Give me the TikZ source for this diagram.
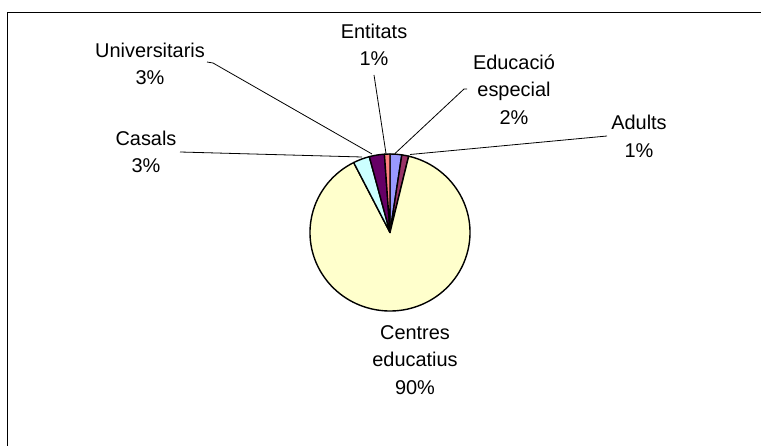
\documentclass[tikz,border=0pt]{standalone}
\usepackage{fontspec}
\setmainfont{Liberation Sans}
\usetikzlibrary{calc}
\definecolor{cBlue}{HTML}{9999FF}
\definecolor{cPlum}{HTML}{993366}
\definecolor{cYellow}{HTML}{FFFFCC}
\definecolor{cCyan}{HTML}{CCFFFF}
\definecolor{cPurple}{HTML}{660066}
\definecolor{cSalmon}{HTML}{FF8080}
\begin{document}
\begin{tikzpicture}[x=1bp,y=-1bp,
  lbl/.style={align=center,font=\fontsize{20}{27.5}\selectfont,inner sep=0pt},
  leader/.style={draw=black,line width=0.8bp},
  slice/.style={draw=black,line width=1.4bp,line join=round}]
\useasboundingbox (0,0) rectangle (761,446);
\fill[white] (0,0) rectangle (761,446);
% frame (top and left edges visible)
\draw[line width=1.6bp] (7.5,446) -- (7.5,12.5) -- (761,12.5);
% pie
\coordinate (c) at (390,232.5);
\foreach \a/\b/\col in {-90/-81.5/cBlue, -81.5/-76.5/cPlum, -76.5/243/cYellow, 243/255/cCyan, 255/266/cPurple, 266/270/cSalmon}{
  \draw[slice,fill=\col] (c) -- ++(\a:80 and 78.5) arc[start angle=\a,end angle=\b,x radius=80,y radius=78.5] -- cycle;
}
% labels
\node[lbl] (univ) at (150,64) {Universitaris\\3\%};
\node[lbl] (casals) at (146,152) {Casals\\3\%};
\node[lbl] (entitats) at (374,45) {Entitats\\1\%};
\node[lbl] (educ) at (514,89.5) {Educació\\especial\\2\%};
\node[lbl] (adults) at (639,136.5) {Adults\\1\%};
\node[lbl] (centres) at (415,360) {Centres\\educatius\\90\%};
% leader ends
\coordinate (pUniv) at (372,154);
\coordinate (pCasals) at (362,157);
\coordinate (pEnt) at (386,153.5);
\coordinate (pEduc) at (395,153.5);
\coordinate (pAdults) at (410,154.5);
\coordinate (sUniv) at (207,62);
\coordinate (kUniv) at (213,63);
\coordinate (sCasals) at (180,152);
\coordinate (sEnt) at (374,75);
\coordinate (sEduc) at (467,89);
\coordinate (kEduc) at (464,89);
\coordinate (sAdults) at (607,136);
\draw[leader] (sUniv) -- (kUniv) -- (pUniv);
\draw[leader] (sCasals) -- (pCasals);
\draw[leader] (sEnt) -- (pEnt);
\draw[leader] (sEduc) -- (kEduc) -- (pEduc);
\draw[leader] (sAdults) -- (pAdults);
\end{tikzpicture}
\end{document}
